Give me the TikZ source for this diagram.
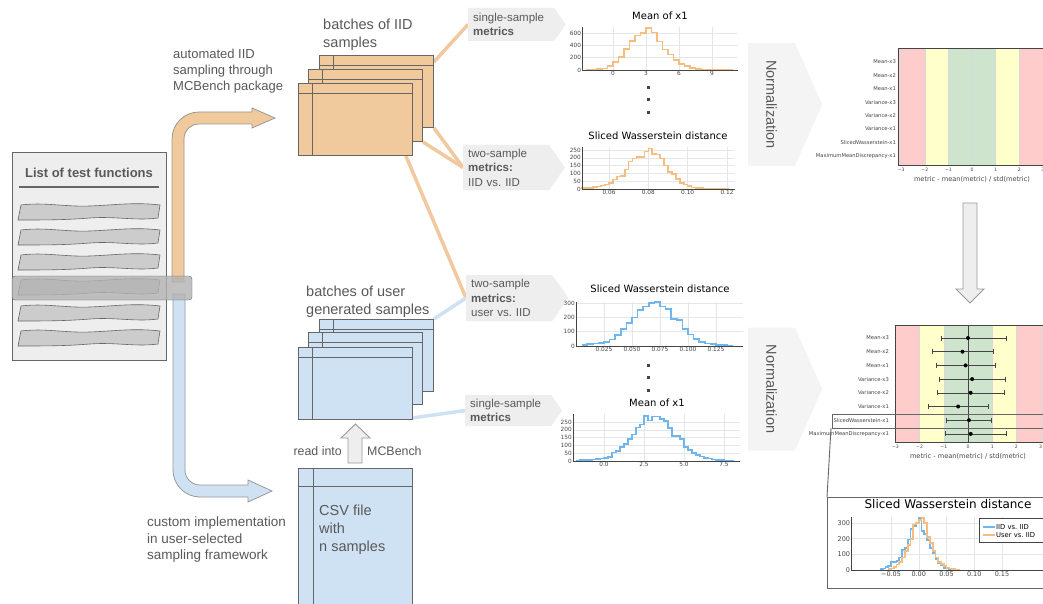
\documentclass[tikz,border=0pt]{standalone}
\usepackage{fontspec}
\setmainfont{Liberation Sans}
\newfontfamily\plotfont{DejaVu Sans}
\usepackage{graphicx}
\usepackage{tikz}
\usetikzlibrary{calc,shapes.symbols}
\pgfdeclarelayer{links}
\pgfsetlayers{links,main}
\frenchspacing

\definecolor{iidfill}{HTML}{F0C99D}
\definecolor{usrfill}{HTML}{CFE2F3}
\definecolor{iidline}{HTML}{F2C89E}
\definecolor{usrline}{HTML}{CFE2F3}
\definecolor{iidhist}{HTML}{F5BD80}
\definecolor{usrhist}{HTML}{70B6EE}
\definecolor{labelgray}{HTML}{595959}
\definecolor{edgegray}{HTML}{666666}
\definecolor{pipegray}{HTML}{999999}
\definecolor{tagfill}{HTML}{EEEEEE}
\definecolor{normfill}{HTML}{F4F4F4}
\definecolor{bandred}{HTML}{FFCCCC}
\definecolor{bandyellow}{HTML}{FFFFCC}
\definecolor{bandgreen}{HTML}{CFE4CC}
\definecolor{gridgray}{HTML}{E6E6E6}
\definecolor{axisgray}{HTML}{444444}

\begin{document}
\begin{tikzpicture}[x=1pt, y=-1pt,
  notetext/.style={text=labelgray, align=left, anchor=north west, inner sep=0pt},
  page/.style={draw=edgegray, line width=0.9pt, minimum width=114pt, minimum height=72pt,
    inner sep=0pt, anchor=north west,
    path picture={
      \draw[edgegray, line width=0.8pt] ([yshift=-10pt]path picture bounding box.north west) -- ([yshift=-10pt]path picture bounding box.north east);
      \draw[edgegray, line width=0.8pt] ([xshift=14pt]path picture bounding box.north west) -- ([xshift=14pt]path picture bounding box.south west);}},
  iidpage/.style={page, fill=iidfill},
  usrpage/.style={page, fill=usrfill},
  csvpage/.style={draw=edgegray, line width=0.9pt, fill=usrfill, minimum width=114pt, minimum height=140pt,
    inner sep=0pt, anchor=north west,
    path picture={
      \draw[edgegray, line width=0.8pt] ([yshift=-18pt]path picture bounding box.north west) -- ([yshift=-18pt]path picture bounding box.north east);
      \draw[edgegray, line width=0.8pt] ([xshift=15pt]path picture bounding box.north west) -- ([xshift=15pt]path picture bounding box.south west);}},
  metric/.style={signal, signal to=east, signal pointer angle=110, fill=tagfill, text=labelgray,
    font=\fontsize{11.5}{14.5}\selectfont, align=left, text width=76pt, inner xsep=5pt, inner ysep=0pt, anchor=west},
  normarrow/.style={signal, signal to=east, signal pointer angle=132, fill=normfill, text=labelgray,
    font=\fontsize{14.5}{17}\selectfont, minimum height=123pt, inner xsep=18pt, anchor=west},
  iidlink/.style={draw=iidline, line width=3.5pt},
  usrlink/.style={draw=usrline, line width=3.5pt},
  pipeline/.style={draw=pipegray, line width=0.8pt},
  blockarrow/.style={draw=pipegray, fill=tagfill, line width=0.9pt},
  plottitle/.style={font=\plotfont\fontsize{10}{12}\selectfont, text=black},
  ticklbl/.style={font=\plotfont\fontsize{5.8}{7}\selectfont, text=axisgray, inner sep=1pt},
  dotlbl/.style={font=\plotfont\fontsize{4.6}{6}\selectfont, text=axisgray, inner sep=1pt},
  rowlbl/.style={font=\plotfont\fontsize{5.2}{6}\selectfont, text=axisgray, anchor=east, inner sep=1pt},
  axlbl/.style={font=\plotfont\fontsize{6.6}{8}\selectfont, text=axisgray},
  gridline/.style={draw=gridgray, line width=0.4pt},
  axisline/.style={draw=axisgray, line width=0.6pt},
  iidhistline/.style={draw=iidhist, line width=1.6pt},
  usrhistline/.style={draw=usrhist, line width=1.6pt},
  errbar/.style={draw=axisgray, line width=0.5pt}
]
\useasboundingbox (0,0) rectangle (1043,604);
\begin{pgfonlayer}{links}
\fill[white] (0,0) rectangle (1043,604);
\end{pgfonlayer}

% list of test functions
\node[draw=edgegray, fill=tagfill, minimum width=154pt, minimum height=208pt, inner sep=0pt] (tests) at (89,256) {};
\node[font=\bfseries\fontsize{13}{15}\selectfont, text=labelgray] (teststitle) at (89,173) {List of test functions};
\draw[edgegray, line width=1pt] (19,187) -- (159,187);
\foreach \yc in {212,237,262,287,313,338} {
  \draw[draw=edgegray, fill=black!20, line width=0.6pt]
    (21,\yc-7) .. controls (45,\yc-10) and (65,\yc-5) .. (90,\yc-6)
    .. controls (115,\yc-7) and (135,\yc-10) .. (160,\yc-7) -- (158,\yc+6)
    .. controls (135,\yc+9) and (115,\yc+4) .. (90,\yc+6)
    .. controls (65,\yc+8) and (45,\yc+8) .. (18,\yc+8) -- cycle;
}

% sampling pipes
\draw[pipeline, fill=iidfill] (172,282) -- (172,139) .. controls (172,124.1) and (184.1,112) .. (199,112)
  -- (252,112) -- (252,108) -- (275,118) -- (252,128) -- (252,124) -- (199,124)
  .. controls (190.7,124) and (184,130.7) .. (184,139) -- (184,282) -- cycle;
\draw[pipeline, fill=usrfill] (173,294) -- (173,470) .. controls (173,484.9) and (185.1,497) .. (200,497)
  -- (248,497) -- (248,502) -- (272,491) -- (248,480) -- (248,485) -- (200,485)
  .. controls (191.7,485) and (185,478.3) .. (185,470) -- (185,294) -- cycle;
\node[draw=edgegray, fill=black!30, fill opacity=0.8, rounded corners=3pt, minimum width=180pt,
  minimum height=24pt, inner sep=0pt] (pick) at (102,288) {};

\node[notetext, font=\fontsize{13}{16}\selectfont] (autotext) at (173,49) {automated IID\\sampling through\\MCBench package};
\node[notetext, font=\fontsize{13.5}{16.3}\selectfont] (customtext) at (147,517) {custom implementation\\in user-selected\\sampling framework};

% batches of samples
\node[notetext, font=\fontsize{14.5}{17.5}\selectfont] (iidtext) at (323,19) {batches of IID\\samples};
\node[iidpage] (iidA) at (319,55) {};
\node[iidpage] (iidB) at (308,69) {};
\node[iidpage] (iidC) at (298,83) {};
\node[notetext, font=\fontsize{14.5}{17.7}\selectfont] (usrtext) at (306,286) {batches of user\\generated samples};
\node[usrpage] (usrA) at (319,319) {};
\node[usrpage] (usrB) at (308,332) {};
\node[usrpage] (usrC) at (298,347) {};

% csv file
\node[csvpage] (csv) at (298,468) {};
\node[notetext, font=\fontsize{14.5}{18}\selectfont] (csvtext) at (319,505) {CSV file\\with\\n samples};
\draw[blockarrow] (348,463) -- (348,438) -- (341,438) -- (355.5,424) -- (370,438) -- (362,438) -- (362,463) -- cycle;
\node[text=labelgray, font=\fontsize{12.4}{14}\selectfont, anchor=east, inner sep=0pt] (readtext) at (342,451) {read into};
\node[text=labelgray, font=\fontsize{12.4}{14}\selectfont, anchor=west, inner sep=0pt] (mcbtext) at (367,451) {MCBench};

% metric tags
\node[metric, minimum height=33pt] (m1) at (468,24.5) {single-sample\\\textbf{metrics}};
\node[metric, minimum height=45pt] (m2) at (463,167.5) {two-sample\\\textbf{metrics:}\\IID vs. IID};
\node[metric, minimum height=46pt] (m3) at (466,298) {two-sample\\\textbf{metrics:}\\user vs. IID};
\node[metric, minimum height=31pt] (m4) at (465,410.5) {single-sample\\\textbf{metrics}};

\begin{pgfonlayer}{links}
\draw[iidlink] ($(iidA.north east)+(0,7)$) -- (m1.west);
\draw[iidlink] (iidA.south east) -- (m2.west);
\draw[iidlink] (iidB.south east) -- (m2.west);
\draw[iidlink] ($(iidC.south east)+(-7,0)$) -- (m3.west);
\draw[usrlink] (usrA.north east) -- (m3.west);
\draw[usrlink] ($(usrC.south east)+(0,-2)$) -- (m4.west);
\end{pgfonlayer}

% histogram: mean of x1 (IID)
\node[plottitle] (h1title) at (660,16) {Mean of x1};
\begin{scope}[shift={(613,70)}, x=11pt, y=0.0617pt]
  \foreach \t in {0,3,6,9} \draw[gridline] (\t,0) -- (\t,697);
  \foreach \t in {200,400,600} \draw[gridline] (-2.8,\t) -- (11.36,\t);
  \draw[iidhistline] plot[const plot] coordinates {(-2.5,5) (-2,8) (-1.5,12) (-1,25) (-0.5,60) (0,130)
    (0.5,210) (1,340) (1.5,470) (2,560) (2.5,600) (3,680) (3.5,610) (4,460) (4.5,330) (5,250) (5.5,160)
    (6,100) (6.5,60) (7,30) (7.5,15) (8,8) (8.5,5) (9,3) (9.5,2) (10,1) (10.5,1) (10.9,1)};
  \draw[axisline] (-2.8,697) -- (-2.8,0) -- (11.36,0);
  \foreach \t in {0,3,6,9} \node[ticklbl, anchor=north] at (\t,0) {\t};
  \foreach \t in {0,200,400,600} \node[ticklbl, anchor=east] at (-2.8,\t) {\t};
\end{scope}
\foreach \yd in {88,100,113} \fill[axisgray] (646.5,\yd-1.5) rectangle ++(3,3);

% histogram: sliced wasserstein (IID vs IID)
\node[plottitle] (h2title) at (658,136) {Sliced Wasserstein distance};
\begin{scope}[shift={(491,189)}, x=1966.7pt, y=0.156pt]
  \foreach \t in {0.06,0.08,0.10,0.12} \draw[gridline] (\t,0) -- (\t,269);
  \foreach \t in {50,100,...,250} \draw[gridline] (0.0463,\t) -- (0.1241,\t);
  \draw[iidhistline] plot[const plot] coordinates {(0.046,5) (0.048,5) (0.050,8) (0.052,12) (0.054,15)
    (0.056,22) (0.058,30) (0.060,40) (0.062,60) (0.064,80) (0.066,85) (0.068,125) (0.070,175) (0.072,195)
    (0.074,205) (0.076,205) (0.078,240) (0.080,260) (0.082,225) (0.084,220) (0.086,195) (0.088,150)
    (0.090,110) (0.092,95) (0.094,65) (0.096,38) (0.098,30) (0.100,18) (0.102,10) (0.104,7) (0.106,5)
    (0.108,3) (0.110,2) (0.112,2) (0.114,1) (0.116,1) (0.118,1) (0.121,1)};
  \draw[axisline] (0.0463,269) -- (0.0463,0) -- (0.1241,0);
  \foreach \t/\s in {0.06/0.06,0.08/0.08,0.10/0.10,0.12/0.12} \node[ticklbl, anchor=north] at (\t,0) {\s};
  \foreach \t in {0,50,100,...,250} \node[ticklbl, anchor=east] at (0.0463,\t) {\t};
\end{scope}

% histogram: sliced wasserstein (user vs IID)
\node[plottitle] (h3title) at (660,289) {Sliced Wasserstein distance};
\begin{scope}[shift={(576,346)}, x=1120pt, y=0.1433pt]
  \foreach \t in {0.025,0.050,0.075,0.100,0.125} \draw[gridline] (\t,0) -- (\t,307);
  \foreach \t in {100,200,300} \draw[gridline] (0,\t) -- (0.149,\t);
  \draw[usrhistline] plot[const plot] coordinates {(0.005,8) (0.010,12) (0.015,18) (0.020,22) (0.025,30)
    (0.030,45) (0.035,75) (0.040,120) (0.045,160) (0.050,200) (0.055,250) (0.060,275) (0.065,300)
    (0.070,305) (0.075,275) (0.080,260) (0.085,190) (0.090,180) (0.095,120) (0.100,80) (0.105,50)
    (0.110,30) (0.115,18) (0.120,12) (0.125,8) (0.130,6) (0.135,3) (0.140,3)};
  \draw[axisline] (0,307) -- (0,0) -- (0.149,0);
  \foreach \t/\s in {0.025/0.025,0.050/0.050,0.075/0.075,0.100/0.100,0.125/0.125} \node[ticklbl, anchor=north] at (\t,0) {\s};
  \foreach \t in {0,100,200,300} \node[ticklbl, anchor=east] at (0,\t) {\t};
\end{scope}
\foreach \yd in {365,377,390} \fill[axisgray] (646.5,\yd-1.5) rectangle ++(3,3);

% histogram: mean of x1 (user)
\node[plottitle] (h4title) at (657,403) {Mean of x1};
\begin{scope}[shift={(604,461)}, x=16pt, y=0.156pt]
  \foreach \t in {0,2.5,5,7.5} \draw[gridline] (\t,0) -- (\t,301);
  \foreach \t in {50,100,...,250} \draw[gridline] (-1.94,\t) -- (8.5,\t);
  \draw[usrhistline] plot[const plot] coordinates {(-1.75,3) (-1.5,5) (-1.25,5) (-1,8) (-0.75,10) (-0.5,12)
    (-0.25,15) (0,20) (0.25,25) (0.5,55) (0.75,65) (1,90) (1.25,110) (1.5,140) (1.75,170) (2,215)
    (2.25,235) (2.5,290) (2.75,260) (3,285) (3.25,285) (3.5,270) (3.75,255) (4,210) (4.25,160) (4.5,160)
    (4.75,140) (5,90) (5.25,70) (5.5,50) (5.75,40) (6,30) (6.25,20) (6.5,15) (6.75,10) (7,8) (7.25,5)
    (7.5,3) (7.75,2) (8.1,2)};
  \draw[axisline] (-1.94,301) -- (-1.94,0) -- (8.5,0);
  \foreach \t/\s in {0/0.0,2.5/2.5,5/5.0,7.5/7.5} \node[ticklbl, anchor=north] at (\t,0) {\s};
  \foreach \t in {0,50,100,...,250} \node[ticklbl, anchor=east] at (-1.94,\t) {\t};
\end{scope}

% normalization
\node[normarrow] (norm1) at (748,104.5) {\rotatebox{-90}{Normalization}};
\node[normarrow] (norm2) at (748,389) {\rotatebox{-90}{Normalization}};

% normalized metrics (reference)
\begin{scope}[shift={(972,0)}, x=23.6pt]
  \fill[bandred] (-3.14,48) rectangle (-2,165);
  \fill[bandyellow] (-2,48) rectangle (-1,165);
  \fill[bandgreen] (-1,48) rectangle (1,165);
  \fill[bandyellow] (1,48) rectangle (2,165);
  \fill[bandred] (2,48) rectangle (3.2,165);
  \foreach \v/\s in {-3/−3,-2/−2,-1/−1,0/0,1/1,2/2,3/3} {
    \draw[draw=black!15, line width=0.4pt] (\v,48) -- (\v,165);
    \node[dotlbl] at (\v,170) {\s};
  }
  \draw[axisline] (3.2,48) -- (-3.14,48) -- (-3.14,165) -- (3.2,165);
  \node[axlbl] (ax1) at (0,179) {metric - mean(metric) / std(metric)};
\end{scope}
\foreach \rowname [count=\i from 0] in {Mean-x3,Mean-x2,Mean-x1,Variance-x3,Variance-x2,Variance-x1,SlicedWasserstein-x1,MaximumMeanDiscrepancy-x1}
  \node[rowlbl] at (897,62+13.4*\i) {\rowname};

\draw[blockarrow] (963,203) -- (977,203) -- (977,289) -- (984,289) -- (970,303) -- (956,289) -- (963,289) -- cycle;

% normalized metrics (user)
\begin{scope}[shift={(968,0)}, x=24.2pt]
  \fill[bandred] (-3.02,325) rectangle (-2,442);
  \fill[bandyellow] (-2,325) rectangle (-1,442);
  \fill[bandgreen] (-1,325) rectangle (1,442);
  \fill[bandyellow] (1,325) rectangle (2,442);
  \fill[bandred] (2,325) rectangle (3.2,442);
  \foreach \v/\s in {-3/−3,-2/−2,-1/−1,0/0,1/1,2/2,3/3} {
    \draw[draw=black!15, line width=0.4pt] (\v,325) -- (\v,442);
    \node[dotlbl] at (\v,447) {\s};
  }
  \draw[axisgray, line width=0.7pt] (0,325) -- (0,442);
  \foreach \est/\lo/\hi [count=\i from 0] in {0/-1.1/1.58,-0.23/-1.49/1.03,-0.1/-1.31/1.13,0.17/-1.17/1.54,
      0.11/-1.28/1.51,-0.41/-1.65/0.84,0.04/-0.9/0.96,0.11/-0.95/1.58} {
    \draw[errbar] (\lo,338+13.7*\i) -- (\hi,338+13.7*\i);
    \draw[errbar] (\lo,335.5+13.7*\i) -- (\lo,340.5+13.7*\i);
    \draw[errbar] (\hi,335.5+13.7*\i) -- (\hi,340.5+13.7*\i);
    \fill[black] (\est,338+13.7*\i) circle (2pt);
  }
  \draw[axisline] (3.2,325) -- (-3.02,325) -- (-3.02,442) -- (3.2,442);
  \node[axlbl] (ax2) at (0,456) {metric - mean(metric) / std(metric)};
\end{scope}
\foreach \rowname [count=\i from 0] in {Mean-x3,Mean-x2,Mean-x1,Variance-x3,Variance-x2,Variance-x1,SlicedWasserstein-x1,MaximumMeanDiscrepancy-x1}
  \node[rowlbl] at (890,338+13.7*\i) {\rowname};

% zoomed comparison
\draw[edgegray, line width=0.9pt] (832,414) rectangle (1046,428);
\draw[edgegray, line width=0.9pt] (831,428) -- (827,497);
\draw[edgegray, line width=0.9pt] (827,497) rectangle (1046,588);
\node[plottitle, font=\plotfont\fontsize{12}{14}\selectfont] (h5title) at (948,504) {Sliced Wasserstein distance};
\begin{scope}[shift={(918.75,570)}, x=555pt, y=0.1567pt]
  \foreach \t in {-0.05,0,0.05,0.10,0.15} \draw[gridline] (\t,0) -- (\t,338);
  \foreach \t in {100,200,300} \draw[gridline] (-0.1216,\t) -- (0.24,\t);
  \draw[usrhistline, line width=1.8pt] plot[const plot] coordinates {(-0.07,5) (-0.065,10) (-0.06,20)
    (-0.055,25) (-0.05,50) (-0.045,50) (-0.04,60) (-0.035,80) (-0.03,130) (-0.025,140) (-0.02,195)
    (-0.015,260) (-0.01,280) (-0.005,300) (0,330) (0.005,250) (0.01,230) (0.015,190) (0.02,140)
    (0.025,110) (0.03,70) (0.035,45) (0.04,30) (0.045,15) (0.05,10) (0.055,5) (0.06,5)};
  \draw[iidhistline, line width=1.8pt] plot[const plot] coordinates {(-0.055,5) (-0.05,10) (-0.045,20)
    (-0.04,35) (-0.035,50) (-0.03,80) (-0.025,120) (-0.02,160) (-0.015,200) (-0.01,290) (-0.005,300)
    (0,320) (0.005,330) (0.01,300) (0.015,210) (0.02,170) (0.025,120) (0.03,80) (0.035,50) (0.04,40)
    (0.045,25) (0.05,15) (0.055,10) (0.06,5) (0.065,3) (0.07,1) (0.075,1)};
  \draw[axisline] (-0.1216,338) -- (-0.1216,0) -- (0.24,0);
  \foreach \t/\s in {-0.05/−0.05,0/0.00,0.05/0.05,0.10/0.10,0.15/0.15}
    \node[ticklbl, font=\plotfont\fontsize{6.5}{8}\selectfont, anchor=north] at (\t,0) {\s};
  \foreach \t in {0,100,200,300}
    \node[ticklbl, font=\plotfont\fontsize{6.5}{8}\selectfont, anchor=east] at (-0.1216,\t) {\t};
\end{scope}
\draw[axisgray, fill=white, line width=0.8pt] (979,518) rectangle (1046,542);
\draw[usrhist, line width=1.8pt] (983,527) -- (995,527);
\draw[iidhist, line width=1.8pt] (983,535) -- (995,535);
\node[font=\plotfont\fontsize{6.8}{8}\selectfont, anchor=west, inner sep=1pt] (leg1) at (995,527) {IID vs. IID};
\node[font=\plotfont\fontsize{6.8}{8}\selectfont, anchor=west, inner sep=1pt] (leg2) at (995,535) {User vs. IID};
\end{tikzpicture}
\end{document}
